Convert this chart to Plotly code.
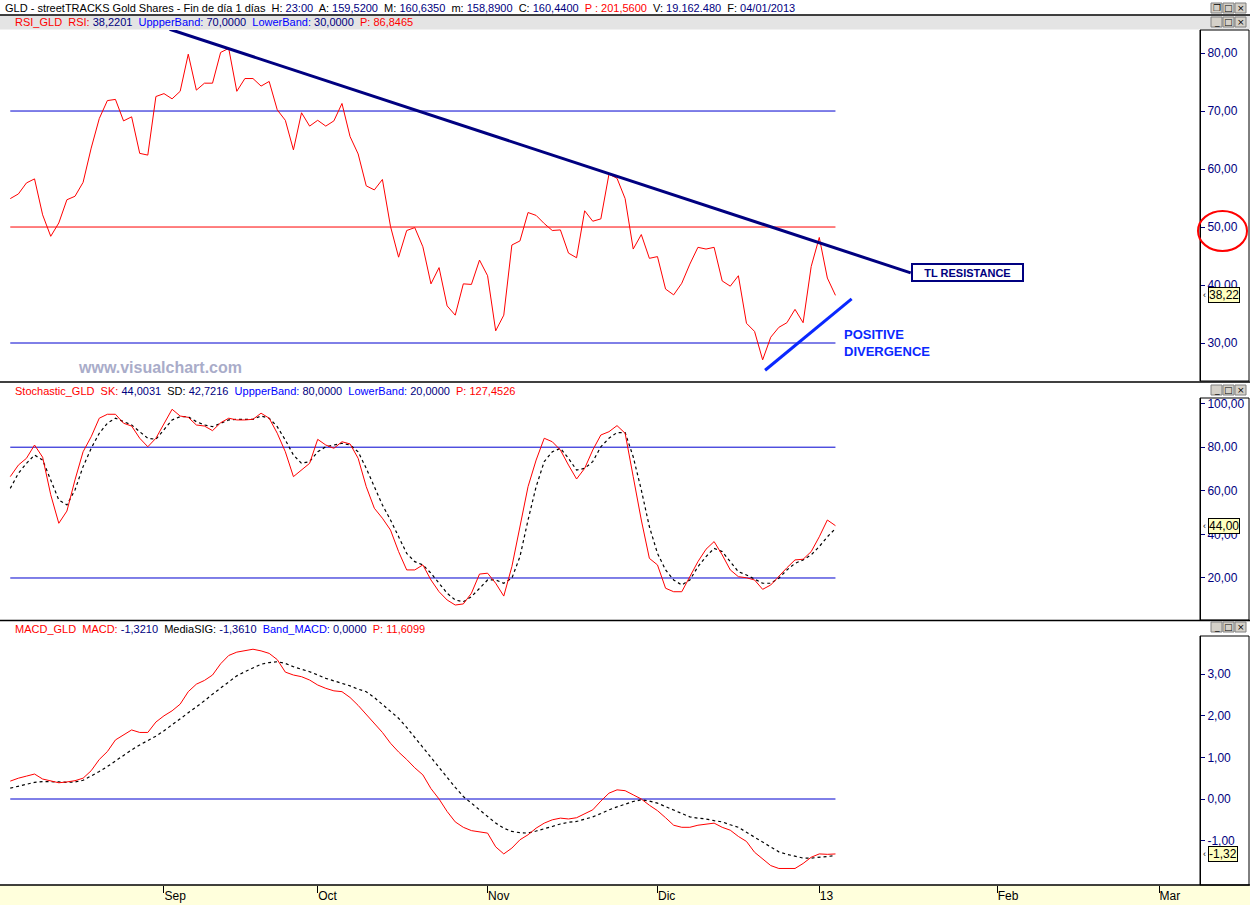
import plotly.graph_objects as go

# --- data (bar index 0 = first bar, 7 Aug 2012) ---
bars = list(range(103))

rsi = [54.9, 55.7, 57.6, 58.3, 52.1, 48.4, 50.7, 54.7, 55.3, 57.7,
       63.6, 68.7, 71.8, 72.0, 68.3, 69.0, 62.7, 62.4, 72.5, 73.0,
       72.1, 73.4, 79.8, 73.6, 74.8, 74.8, 80.1, 80.8, 73.4, 75.6,
       75.6, 74.3, 75.1, 70.2, 68.4, 63.3, 69.7, 67.4, 68.4, 67.4,
       68.3, 71.3, 65.6, 62.6, 57.1, 56.4, 58.2, 50.1, 44.8, 49.4,
       49.9, 46.6, 40.2, 43.0, 36.4, 34.8, 40.2, 40.1, 44.3, 41.6,
       32.1, 34.8, 46.9, 47.6, 52.5, 52.0, 50.6, 49.4, 49.5, 45.5,
       44.7, 52.8, 51.0, 51.4, 59.1, 58.4, 54.9, 46.2, 48.7, 44.6,
       44.9, 39.3, 38.3, 40.3, 43.6, 46.5, 46.2, 46.5, 40.7, 39.8,
       41.6, 33.4, 32.0, 27.1, 31.0, 32.7, 33.5, 35.8, 33.5, 43.2,
       48.2, 41.2, 38.22]

stoch_k = [66.5, 71.8, 74.9, 81.0, 75.4, 58.2, 45.1, 50.7, 65.0, 77.9,
           84.8, 93.3, 95.1, 95.1, 91.0, 89.7, 84.1, 80.2, 84.1, 91.0,
           97.4, 94.3, 93.7, 90.2, 89.7, 87.6, 91.2, 93.3, 92.5, 92.5,
           92.8, 95.6, 93.3, 86.4, 77.9, 66.5, 69.5, 72.6, 83.6, 81.0,
           79.5, 82.5, 81.5, 74.9, 61.9, 52.0, 47.4, 42.0, 32.1, 23.7,
           23.7, 26.0, 19.1, 13.7, 9.9, 7.6, 8.1, 13.0, 21.8, 22.2,
           17.6, 11.7, 25.2, 43.5, 61.9, 74.1, 84.1, 82.5, 78.7, 71.8,
           65.4, 70.3, 78.7, 85.6, 87.1, 89.9, 86.4, 66.5, 46.6, 29.0,
           26.0, 15.3, 13.7, 13.7, 20.6, 27.5, 33.2, 36.7, 30.6, 23.7,
           20.6, 20.1, 19.1, 14.8, 16.8, 20.9, 24.7, 28.3, 28.6, 32.1,
           38.9, 46.6, 44.0]

stoch_d = [61.1, 68.0, 72.6, 76.4, 74.1, 65.0, 55.8, 53.5, 60.4, 71.1,
           79.5, 86.4, 91.0, 93.3, 91.7, 90.2, 87.1, 84.1, 83.6, 87.9,
           92.5, 94.0, 94.0, 91.7, 90.2, 89.4, 91.0, 92.5, 92.8, 92.8,
           92.8, 94.3, 93.3, 89.4, 83.3, 76.4, 72.6, 73.4, 77.9, 80.2,
           81.0, 81.8, 81.0, 77.9, 70.3, 61.9, 53.5, 46.6, 38.9, 31.3,
           27.5, 26.0, 22.2, 17.6, 13.0, 9.9, 9.1, 11.4, 15.3, 19.1,
           19.1, 17.6, 19.9, 29.8, 46.6, 61.9, 73.4, 77.9, 79.5, 74.9,
           69.5, 70.3, 73.4, 80.2, 84.1, 86.7, 86.7, 75.6, 60.4, 43.5,
           31.3, 23.7, 19.1, 16.8, 19.1, 25.2, 29.8, 33.6, 32.1, 27.5,
           22.9, 21.4, 19.4, 17.6, 17.6, 19.9, 23.7, 26.7, 28.3, 30.6,
           34.4, 38.9, 42.7]

macd = [0.43, 0.50, 0.55, 0.60, 0.48, 0.43, 0.39, 0.41, 0.44, 0.50,
        0.68, 0.95, 1.14, 1.42, 1.55, 1.66, 1.60, 1.60, 1.85, 2.00,
        2.12, 2.28, 2.58, 2.76, 2.85, 2.98, 3.25, 3.45, 3.53, 3.57,
        3.60, 3.56, 3.50, 3.35, 3.05, 2.98, 2.94, 2.86, 2.74, 2.66,
        2.60, 2.58, 2.44, 2.25, 2.03, 1.82, 1.60, 1.34, 1.13, 0.95,
        0.75, 0.58, 0.25, 0.00, -0.30, -0.55, -0.68, -0.76, -0.79, -0.82,
        -1.15, -1.32, -1.18, -0.98, -0.86, -0.70, -0.58, -0.50, -0.46, -0.48,
        -0.45, -0.36, -0.26, -0.05, 0.14, 0.22, 0.20, 0.10, 0.00, -0.15,
        -0.28, -0.45, -0.63, -0.68, -0.68, -0.63, -0.60, -0.58, -0.68, -0.75,
        -0.90, -1.02, -1.28, -1.45, -1.60, -1.67, -1.67, -1.67, -1.55, -1.40,
        -1.32, -1.33, -1.321]

macd_signal = [0.26, 0.31, 0.36, 0.40, 0.42, 0.42, 0.41, 0.40, 0.41, 0.45,
               0.55, 0.66, 0.78, 0.92, 1.06, 1.18, 1.30, 1.40, 1.51, 1.64,
               1.78, 1.92, 2.06, 2.20, 2.36, 2.52, 2.66, 2.82, 2.96, 3.06,
               3.16, 3.24, 3.28, 3.30, 3.26, 3.18, 3.12, 3.06, 2.98, 2.90,
               2.84, 2.78, 2.72, 2.64, 2.58, 2.44, 2.28, 2.12, 1.94, 1.72,
               1.48, 1.22, 0.98, 0.74, 0.50, 0.28, 0.06, -0.10, -0.27, -0.43,
               -0.58, -0.70, -0.78, -0.81, -0.82, -0.77, -0.72, -0.66, -0.60, -0.56,
               -0.54, -0.49, -0.43, -0.35, -0.26, -0.19, -0.12, -0.06, -0.02, -0.05,
               -0.10, -0.18, -0.26, -0.35, -0.43, -0.46, -0.48, -0.52, -0.55, -0.62,
               -0.68, -0.80, -0.92, -1.05, -1.16, -1.27, -1.33, -1.38, -1.42, -1.42,
               -1.40, -1.38, -1.361]

rsi_bands = [70, 50, 30]
rsi_band_colors = ["#0000d0", "#ff0000", "#0000d0"]
stoch_bands = [80, 20]
macd_bands = [0]

# drawn lines on the RSI panel (bar index, RSI value)
tl_x = [19.7, 111.3]
tl_y = [84.1, 42.1]
div_x = [93.3, 104.0]
div_y = [25.3, 37.6]

month_ticks = [19, 38, 59, 80, 100, 122, 142]
month_labels = ["Sep", "Oct", "Nov", "Dic", "13", "Feb", "Mar"]

rsi_ticks = [30, 40, 50, 60, 70, 80]
stoch_ticks = [20, 40, 60, 80, 100]
macd_ticks = [-1, 0, 1, 2, 3]

W, H = 1250, 905
NAVY = "#000080"
FONT = "Arial, Liberation Sans, sans-serif"


def px(x):
    return x / W


def py(y):
    return 1 - y / H


def fmt(v):
    return f"{v:.2f}".replace(".", ",")


fig = go.Figure()

# RSI
for lvl, col in zip(rsi_bands, rsi_band_colors):
    fig.add_trace(go.Scatter(x=[bars[0], bars[-1]], y=[lvl, lvl], mode="lines",
                             line=dict(color=col, width=1), yaxis="y"))
fig.add_trace(go.Scatter(x=bars, y=rsi, mode="lines", line=dict(color="#ff0000", width=1), yaxis="y"))
fig.add_trace(go.Scatter(x=tl_x, y=tl_y, mode="lines", line=dict(color=NAVY, width=3), yaxis="y"))
fig.add_trace(go.Scatter(x=div_x, y=div_y, mode="lines", line=dict(color="#0a28ff", width=3), yaxis="y"))

# Stochastic
for lvl in stoch_bands:
    fig.add_trace(go.Scatter(x=[bars[0], bars[-1]], y=[lvl, lvl], mode="lines",
                             line=dict(color="#0000d0", width=1), yaxis="y2"))
fig.add_trace(go.Scatter(x=bars, y=stoch_d, mode="lines",
                         line=dict(color="black", width=1.2, dash="dot"), yaxis="y2"))
fig.add_trace(go.Scatter(x=bars, y=stoch_k, mode="lines", line=dict(color="#ff0000", width=1), yaxis="y2"))

# MACD
for lvl in macd_bands:
    fig.add_trace(go.Scatter(x=[bars[0], bars[-1]], y=[lvl, lvl], mode="lines",
                             line=dict(color="#0000d0", width=1), yaxis="y3"))
fig.add_trace(go.Scatter(x=bars, y=macd_signal, mode="lines",
                         line=dict(color="black", width=1.2, dash="dot"), yaxis="y3"))
fig.add_trace(go.Scatter(x=bars, y=macd, mode="lines", line=dict(color="#ff0000", width=1), yaxis="y3"))

yax = dict(side="right", anchor="x", showgrid=False, zeroline=False, showline=True,
           linecolor="black", linewidth=1, ticks="outside", ticklen=4, tickcolor=NAVY,
           tickfont=dict(family=FONT, size=12, color=NAVY), automargin=False, fixedrange=True)

fig.update_layout(
    width=W, height=H,
    margin=dict(l=0, r=0, t=0, b=0),
    paper_bgcolor="white", plot_bgcolor="white",
    showlegend=False,
    xaxis=dict(domain=[0, px(1200)], range=[-1.27, 147.06], anchor="y3",
               showgrid=False, zeroline=False, showline=False,
               tickmode="array", tickvals=month_ticks, ticktext=month_labels,
               ticks="outside", ticklen=7, tickcolor="black",
               ticklabelposition="outside right",
               tickfont=dict(family=FONT, size=12, color="black"), automargin=False),
    yaxis=dict(domain=[py(381), py(30)], range=[23.45, 83.97],
               tickmode="array", tickvals=rsi_ticks, ticktext=[fmt(v) for v in rsi_ticks], **yax),
    yaxis2=dict(domain=[py(620), py(398)], range=[0.73, 102.57],
                tickmode="array", tickvals=stoch_ticks, ticktext=[fmt(v) for v in stoch_ticks], **yax),
    yaxis3=dict(domain=[py(885), py(636)], range=[-2.067, 3.918],
                tickmode="array", tickvals=macd_ticks, ticktext=[fmt(v) for v in macd_ticks], **yax),
)

shapes = []
# header band of the RSI window
shapes.append(dict(type="rect", xref="paper", yref="paper", x0=0, x1=1, y0=py(29.5), y1=py(15.5),
                   fillcolor="#e4e4e4", line=dict(width=0), layer="below"))
# x axis strip
shapes.append(dict(type="rect", xref="paper", yref="paper", x0=0, x1=1, y0=0, y1=py(885),
                   fillcolor="#ffffdc", line=dict(width=0), layer="below"))
# separators
for sy in [15, 382, 620.5, 885]:
    shapes.append(dict(type="line", xref="paper", yref="paper", x0=0, x1=1, y0=py(sy), y1=py(sy),
                       line=dict(color="black", width=1.5)))
# right axis boxes
for top, bot in [(30, 381), (398, 620), (636, 885)]:
    shapes.append(dict(type="rect", xref="paper", yref="paper", x0=px(1200), x1=px(1249),
                       y0=py(bot), y1=py(top), line=dict(color="black", width=1)))
# red circle around 50,00
shapes.append(dict(type="circle", xref="paper", yref="paper", x0=px(1198), x1=px(1247),
                   y0=py(251), y1=py(211), line=dict(color="#ff0000", width=2)))

# window buttons
annotations = []
for row_y, glyphs in [(8, ["❐", "□", "×"]), (22, ["_", "□", "×"]),
                      (390, ["_", "□", "×"]), (627, ["_", "□", "×"])]:
    for i, g in enumerate(glyphs):
        x0 = 1211 + i * 12
        shapes.append(dict(type="rect", xref="paper", yref="paper", x0=px(x0), x1=px(x0 + 11),
                           y0=py(row_y + 5), y1=py(row_y - 5), fillcolor="#d4d0c8",
                           line=dict(color="#808080", width=1)))
        annotations.append(dict(xref="paper", yref="paper", x=px(x0 + 5.5), y=py(row_y),
                                text=g, showarrow=False, xanchor="center", yanchor="middle",
                                font=dict(family="DejaVu Sans", size=9, color="black")))

fig.update_layout(shapes=shapes)


def span(t, c):
    return f'<span style="color:{c}">{t}</span>'


R, B, K = "#ff0000", "#0000ff", "black"
header = ("GLD - streetTRACKS Gold Shares - Fin de día 1 días  H: " + span("23:00", NAVY)
          + "  A: " + span("159,5200", NAVY) + "  M: " + span("160,6350", NAVY)
          + "  m: " + span("158,8900", NAVY) + "  C: " + span("160,4400", NAVY)
          + "  " + span("P : 201,5600", R) + "  V: " + span("19.162.480", NAVY)
          + "  F: " + span("04/01/2013", NAVY))
rsi_head = (span("RSI_GLD  RSI:", R) + " " + span("38,2201", NAVY) + "  " + span("UppperBand:", B)
            + " " + span("70,0000", NAVY) + "  " + span("LowerBand:", B) + " "
            + span("30,0000", NAVY) + "  " + span("P: 86,8465", R))
stoch_head = (span("Stochastic_GLD  SK:", R) + " " + span("44,0031", NAVY) + "  " + span("SD:", K)
              + " " + span("42,7216", NAVY) + "  " + span("UppperBand:", B) + " "
              + span("80,0000", NAVY) + "  " + span("LowerBand:", B) + " "
              + span("20,0000", NAVY) + "  " + span("P: 127,4526", R))
macd_head = (span("MACD_GLD  MACD:", R) + " " + span("-1,3210", NAVY) + "  " + span("MediaSIG:", K)
             + " " + span("-1,3610", NAVY) + "  " + span("Band_MACD:", B) + " "
             + span("0,0000", NAVY) + "  " + span("P: 11,6099", R))

for txt, x, y in [(header, 3, 7.5), (rsi_head, 13, 22.5), (stoch_head, 13, 390.5), (macd_head, 13, 628.5)]:
    annotations.append(dict(xref="paper", yref="paper", x=px(x), y=py(y), text=txt, showarrow=False,
                            xanchor="left", yanchor="middle",
                            font=dict(family=FONT, size=11, color="black")))

# current value boxes
for val, yref in [(rsi[-1], "y"), (stoch_k[-1], "y2"), (macd[-1], "y3")]:
    annotations.append(dict(xref="paper", yref=yref, x=px(1208), y=val, text=fmt(val),
                            showarrow=False, xanchor="left", yanchor="middle",
                            bgcolor="#ffffc0", bordercolor="black", borderwidth=1, borderpad=0,
                            font=dict(family=FONT, size=12, color="black")))
    annotations.append(dict(xref="paper", yref=yref, x=px(1204), y=val, text="‹",
                            showarrow=False, xanchor="center", yanchor="middle",
                            font=dict(family=FONT, size=9, color="black")))

# chart notes
annotations.append(dict(xref="x", yref="y", x=tl_x[1], y=tl_y[1], text="<b>TL RESISTANCE</b>",
                        showarrow=False, xanchor="left", yanchor="middle", width=107, height=13,
                        bgcolor="white", bordercolor=NAVY, borderwidth=2, borderpad=1,
                        font=dict(family=FONT, size=11, color=NAVY)))
annotations.append(dict(xref="paper", yref="paper", x=px(842), y=py(343),
                        text="<b>POSITIVE<br>DIVERGENCE</b>", showarrow=False, align="left",
                        xanchor="left", yanchor="middle",
                        font=dict(family=FONT, size=13, color="#0a28ff")))
annotations.append(dict(xref="paper", yref="paper", x=px(160), y=py(367),
                        text="<b>www.visualchart.com</b>", showarrow=False,
                        xanchor="center", yanchor="middle",
                        font=dict(family=FONT, size=16, color="#a9acc9")))

fig.update_layout(annotations=annotations)

fig.write_html("out.html", config={"displayModeBar": False},
               post_script="document.body.style.margin='0';")
